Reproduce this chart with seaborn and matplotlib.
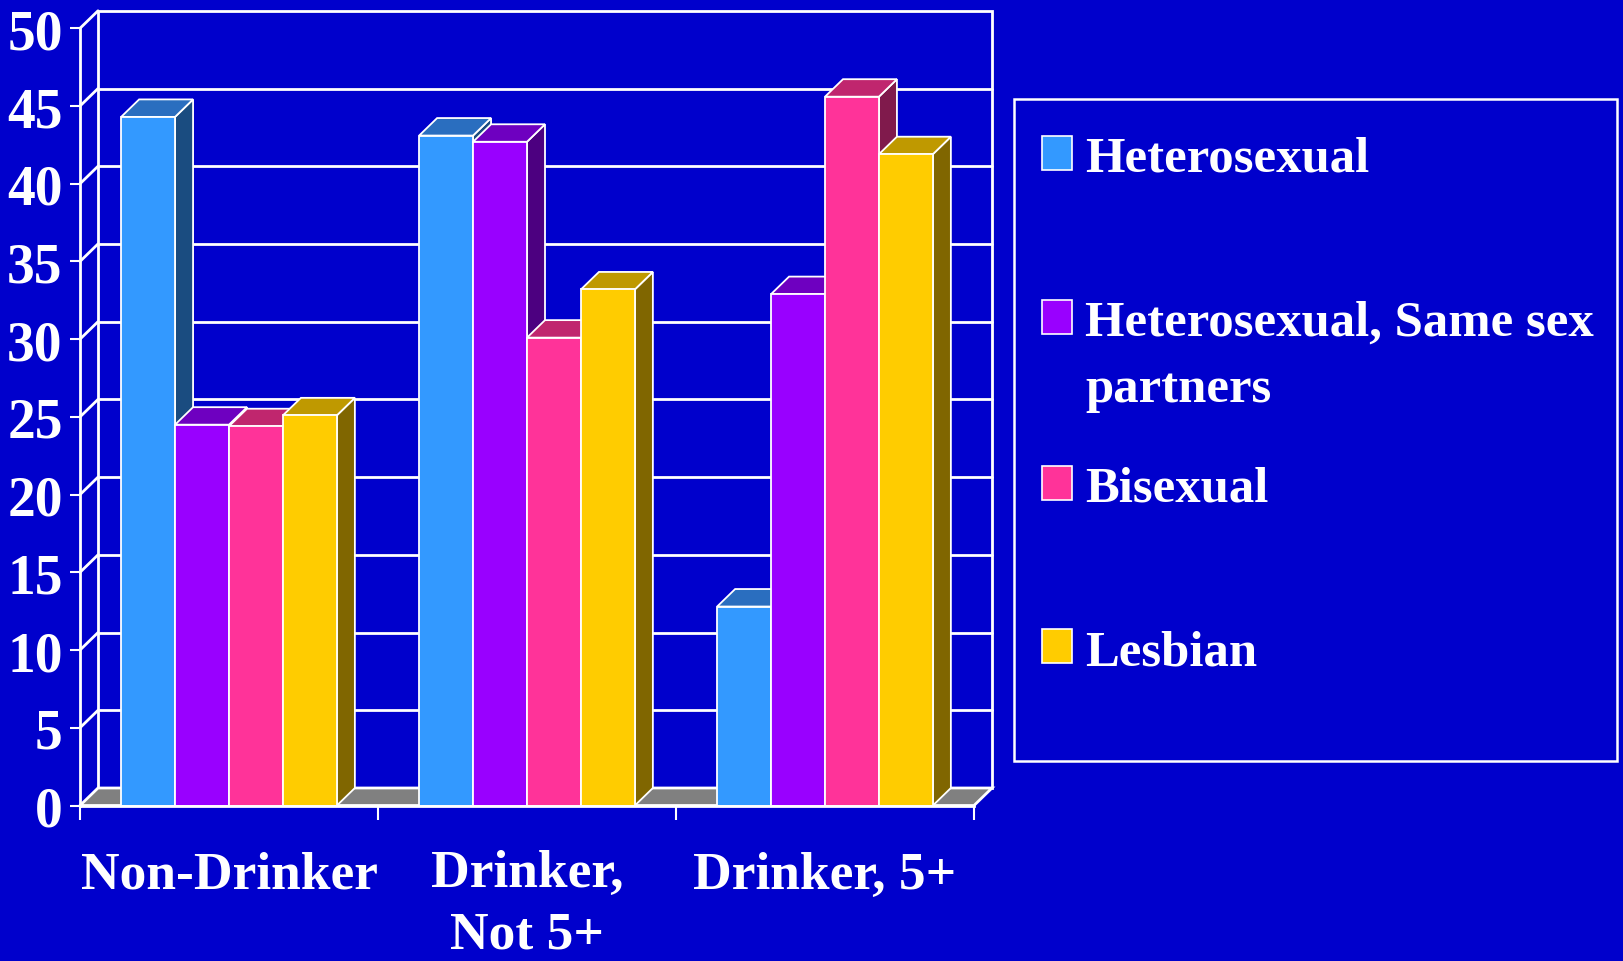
import numpy as np
import pandas as pd
import matplotlib
matplotlib.use("Agg")
import matplotlib.pyplot as plt
import matplotlib.transforms as mtransforms
from matplotlib.patches import Polygon, Rectangle
import seaborn as sns

# ---------------- data ----------------
categories = ["Non-Drinker", "Drinker,\nNot 5+", "Drinker, 5+"]
groups = ["Heterosexual", "Heterosexual, Same sex\npartners", "Bisexual", "Lesbian"]
heterosexual = [44.3, 43.1, 12.8]
hetero_same_sex = [24.5, 42.7, 32.9]
bisexual = [24.4, 30.1, 45.6]
lesbian = [25.1, 33.2, 41.9]
y_ticks = [0, 5, 10, 15, 20, 25, 30, 35, 40, 45, 50]

# ---------------- style ----------------
BG = "#0000CC"
front_colors = ["#3399FF", "#9900FF", "#FF3399", "#FFCC00"]
top_colors = ["#2A6EBF", "#6E00C0", "#C0266E", "#BF9900"]
side_colors = ["#1A4C80", "#4C0080", "#801A4C", "#806600"]

sns.set_theme(style="white")
plt.rcParams["font.family"] = ["Liberation Serif", "DejaVu Serif"]
plt.rcParams["font.weight"] = "bold"

W, H = 1623, 962
fig = plt.figure(figsize=(W / 100, H / 100), dpi=100, facecolor=BG)
x_left_px, x_right_px = 80, 974
y_zero_px, y_top_px = 806.5, 29.3
ax = fig.add_axes([x_left_px / W, 1 - y_zero_px / H,
                   (x_right_px - x_left_px) / W, (y_zero_px - y_top_px) / H])
ax.set_facecolor("none")

values = [heterosexual, hetero_same_sex, bisexual, lesbian]
df = pd.DataFrame({
    "category": [c for _ in groups for c in categories],
    "group": [g for g in groups for _ in categories],
    "value": [v for series in values for v in series],
})

sns.barplot(data=df, x="category", y="value", hue="group",
            order=categories, hue_order=groups, palette=front_colors,
            saturation=1, width=0.724, edgecolor="white", linewidth=1.3,
            legend=False, ax=ax)
bars = list(ax.patches)

ax.set_xlim(-0.5, 2.5)
ax.set_ylim(0, 50)

# pseudo-3D depth offsets in data units
px_per_x = (x_right_px - x_left_px) / 3.0
px_per_y = (y_zero_px - y_top_px) / 50.0
DX = 18.0 / px_per_x
DY = 17.5 / px_per_y

def color_index(patch):
    fc = matplotlib.colors.to_hex(patch.get_facecolor()).lower()
    return [c.lower() for c in front_colors].index(fc)

for p in bars:
    k = color_index(p)
    x0, w, h = p.get_x(), p.get_width(), p.get_height()
    x1 = x0 + w
    p.set_zorder(3)
    ax.add_patch(Polygon([(x1, 0), (x1 + DX, DY), (x1 + DX, h + DY), (x1, h)],
                         closed=True, fc=side_colors[k], ec="white", lw=1.3,
                         zorder=2.0, clip_on=False))
    ax.add_patch(Polygon([(x0, h), (x1, h), (x1 + DX, h + DY), (x0 + DX, h + DY)],
                         closed=True, fc=top_colors[k], ec="white", lw=1.3,
                         zorder=2.5, clip_on=False))

# back wall, floor, gridlines
ax.add_patch(Rectangle((-0.5 + DX, DY), 3, 50, fc=BG, ec="white", lw=2,
                       zorder=1, clip_on=False))
for v in y_ticks[1:-1]:
    ax.plot([-0.5 + DX, 2.5 + DX], [v + DY, v + DY], color="white", lw=2,
            zorder=1.1, clip_on=False)
for v in y_ticks[1:]:
    ax.plot([-0.5, -0.5 + DX], [v, v + DY], color="white", lw=2,
            zorder=1.1, clip_on=False)
ax.add_patch(Polygon([(-0.5, 0), (2.5, 0), (2.5 + DX, DY), (-0.5 + DX, DY)],
                     closed=True, fc="#808080", ec="white", lw=2,
                     zorder=1.5, clip_on=False))

# axes / ticks
for s in ["top", "right"]:
    ax.spines[s].set_visible(False)
for s in ["left", "bottom"]:
    ax.spines[s].set_color("white")
    ax.spines[s].set_linewidth(2)
    ax.spines[s].set_zorder(4)

ax.set_yticks(y_ticks)
ax.set_yticklabels([str(t) for t in y_ticks])
ax.tick_params(axis="y", direction="out", length=7.5, width=1.5, color="white",
               labelcolor="white", labelsize=40, pad=5, left=True)
for lbl in ax.get_yticklabels():
    lbl.set_fontweight("bold")

ax.set_xticks([0, 1, 2])
ax.set_xticks([-0.5, 0.5, 1.5, 2.5], minor=True)
ax.tick_params(axis="x", which="major", length=0, labelbottom=False)
ax.tick_params(axis="x", which="minor", direction="out", length=10, width=1.5,
               color="white", bottom=True)
ax.set_xlabel("")
ax.set_ylabel("")

# category labels (baseline of the last line, in pixels from top)
cat_last_baseline = [888.5, 949.0, 889.3]
trans = mtransforms.blended_transform_factory(ax.transData, fig.transFigure)
for i, cat in enumerate(categories):
    ax.text(i, 1 - cat_last_baseline[i] / H, cat, transform=trans, ha="center",
            va="baseline", fontsize=38.5, fontweight="bold", color="white",
            linespacing=1.38)

# legend drawn as a boxed key
fig.add_artist(Rectangle((1014 / W, 1 - 761.5 / H), (1617 - 1014) / W,
                         (761.5 - 99.5) / H, transform=fig.transFigure,
                         fill=False, ec="white", lw=1.8))
marker_tops = [136.7, 300.7, 466.7, 630.0]
leg_last_baseline = [171.7, 401.7, 501.7, 666.0]
for k, g in enumerate(groups):
    fig.add_artist(Rectangle((1042 / W, 1 - (marker_tops[k] + 34) / H), 30 / W, 34 / H,
                             transform=fig.transFigure, fc=front_colors[k],
                             ec="white", lw=1.2))
    fig.text(1085 / W, 1 - leg_last_baseline[k] / H, g, ha="left", va="baseline",
             fontsize=36.5, fontweight="bold", color="white", linespacing=1.57)

fig.savefig("out.png", dpi=100, facecolor=BG)
